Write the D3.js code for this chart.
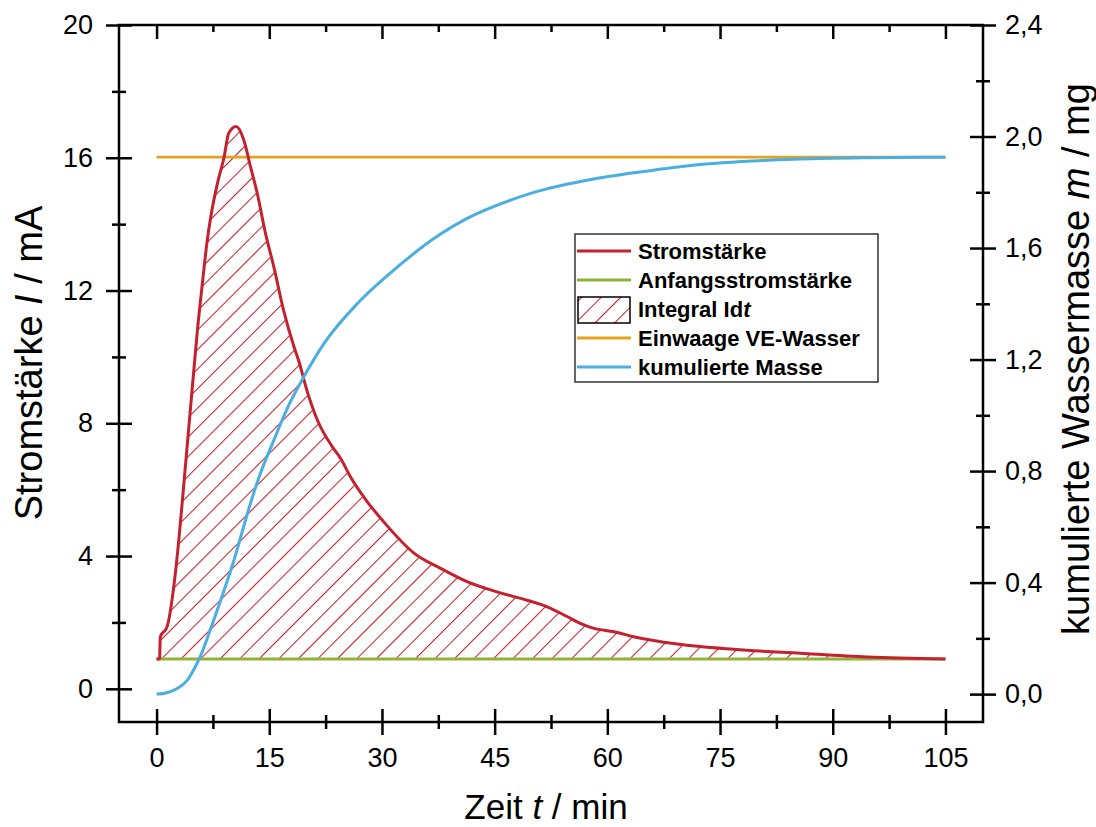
<!DOCTYPE html>
<html>
<head>
<meta charset="utf-8">
<script src="https://cdn.jsdelivr.net/npm/d3@7"></script>
<style>
  body { margin: 0; background: #fff; }
  svg text { font-family: Arial, "Liberation Sans", sans-serif; fill: #000; }
</style>
</head>
<body>
<svg class="chart"></svg>
<script>
// Stromstärke (mA) over Zeit (min)
const stromZeit = [0, 0.4, 0.5, 1.4, 2.4, 3.0, 3.6, 4.3, 5.0, 5.4, 6.1, 6.75, 7.2, 8.1, 9.0, 9.6, 10.6,
  11.6, 12.5, 13.4, 14.5, 15.6, 16.9, 18.3, 18.9, 20.0, 21.4, 23.4, 24.5, 25.8, 28.0, 30.2, 34.3,
  37.8, 41.4, 45.3, 49.3, 52.0, 54.7, 56.4, 58.2, 60.9, 63.5, 69.3, 76.8, 85.7, 94.6, 105];
const stromWerte = [0.9, 0.9, 1.57, 1.87, 3.28, 4.58, 6.09, 7.9, 9.7, 10.71, 12.22, 13.52, 14.2, 15.23, 16.03, 16.74, 16.94,
  16.54, 15.73, 14.93, 13.72, 12.72, 11.41, 10.3, 9.9, 9.0, 8.1, 7.29, 6.94, 6.39, 5.65, 5.04, 4.08,
  3.63, 3.22, 2.92, 2.67, 2.47, 2.17, 1.97, 1.82, 1.72, 1.57, 1.35, 1.19, 1.07, 0.96, 0.9];

// kumulierte Masse (mg)
const masseZeit = [0, 1.5, 2.75, 4.1, 5.0, 5.9, 7.6, 10.3, 12.5, 13.8, 15.6, 17.4, 19.6, 22.3, 26.7,
  31.1, 37.8, 40.9, 45.0, 49.8, 58.7, 67.5, 71.1, 85.7, 95, 105];
const masseWerte = [0, 0.006, 0.02, 0.05, 0.09, 0.14, 0.265, 0.48, 0.684, 0.79, 0.91, 1.025, 1.138, 1.258, 1.40,
  1.51, 1.65, 1.70, 1.75, 1.796, 1.85, 1.884, 1.896, 1.919, 1.924, 1.926];

const anfangsStrom = 0.9;   // mA
const einwaage = 1.926;     // mg
const zeitStart = 0, zeitEnde = 105;

const xMajor = [0, 15, 30, 45, 60, 75, 90, 105];
const xMinor = [7.5, 22.5, 37.5, 52.5, 67.5, 82.5, 97.5];
const yLeftMajor = [0, 4, 8, 12, 16, 20];
const yLeftMinor = [2, 6, 10, 14, 18];
const yRightMajor = [0, 0.4, 0.8, 1.2, 1.6, 2.0, 2.4];
const yRightMinor = [0.2, 0.6, 1.0, 1.4, 1.8, 2.2];

const legendLabels = ['Stromstärke', 'Anfangsstromstärke', 'Integral Id', 'Einwaage VE-Wasser', 'kumulierte Masse'];

const colRed = '#c4212f', colGreen = '#8fb33a', colOrange = '#e6a11f', colBlue = '#4baee0';

const width = 1096, height = 827;
const plot = { left: 119, right: 983, top: 25, bottom: 722 };

const svg = d3.select('svg.chart')
  .attr('width', width)
  .attr('height', height);

const x = d3.scaleLinear().domain([-5, 110]).range([plot.left, plot.right]);
const yL = d3.scaleLinear().domain([-1, 20]).range([plot.bottom, plot.top]);
const yR = d3.scaleLinear().domain([-0.1, 2.4]).range([plot.bottom, plot.top]);

const strom = stromZeit.map((t, i) => ({ t: t, v: stromWerte[i] }));
const masse = masseZeit.map((t, i) => ({ t: t, v: masseWerte[i] }));

// hatch pattern
const defs = svg.append('defs');
defs.append('pattern')
  .attr('id', 'hatch')
  .attr('patternUnits', 'userSpaceOnUse')
  .attr('width', 13.8)
  .attr('height', 13.8)
  .attr('patternTransform', 'rotate(45)')
  .append('line')
    .attr('x1', 0).attr('y1', 0)
    .attr('x2', 0).attr('y2', 13.8)
    .attr('stroke', colRed)
    .attr('stroke-width', 2.1);

//Integral area between Stromstärke and Anfangsstromstärke
svg.append('path')
  .datum(strom)
  .attr('fill', 'url(#hatch)')
  .attr('d', d3.area()
    .curve(d3.curveMonotoneX)
    .x(d => x(d.t))
    .y0(yL(anfangsStrom))
    .y1(d => yL(d.v)));

//Anfangsstromstärke
svg.append('line')
  .attr('x1', x(zeitStart)).attr('x2', x(zeitEnde))
  .attr('y1', yL(anfangsStrom)).attr('y2', yL(anfangsStrom))
  .attr('stroke', colGreen)
  .attr('stroke-width', 3);

//Einwaage
svg.append('line')
  .attr('x1', x(zeitStart)).attr('x2', x(zeitEnde))
  .attr('y1', yR(einwaage)).attr('y2', yR(einwaage))
  .attr('stroke', colOrange)
  .attr('stroke-width', 2.6);

//Stromstärke
svg.append('path')
  .datum(strom)
  .attr('fill', 'none')
  .attr('stroke', colRed)
  .attr('stroke-width', 3)
  .attr('stroke-linejoin', 'round')
  .attr('d', d3.line().curve(d3.curveMonotoneX).x(d => x(d.t)).y(d => yL(d.v)));

//kumulierte Masse
svg.append('path')
  .datum(masse)
  .attr('fill', 'none')
  .attr('stroke', colBlue)
  .attr('stroke-width', 3)
  .attr('d', d3.line().curve(d3.curveMonotoneX).x(d => x(d.t)).y(d => yR(d.v)));

//************************************************
//**Axes******************************************
//************************************************

const comma = v => d3.format('.1f')(v).replace('.', ',');

function styleAxis(g, size) {
  g.select('.domain').remove();
  g.selectAll('.tick line').attr('stroke', '#000').attr('stroke-width', 2.5);
  g.selectAll('.tick text').attr('font-size', size).attr('fill', '#000');
  g.attr('font-family', null);
}

// left
const gLeft = svg.append('g').attr('transform', `translate(${plot.left},0)`);
gLeft.call(d3.axisLeft(yL).tickValues(yLeftMajor).tickSize(13).tickPadding(13));
styleAxis(gLeft, 27);
gLeft.selectAll('.tick line').attr('x1', 13);
const gLeftMin = svg.append('g').attr('transform', `translate(${plot.left},0)`);
gLeftMin.call(d3.axisLeft(yL).tickValues(yLeftMinor).tickSize(7).tickFormat(''));
styleAxis(gLeftMin, 27);
gLeftMin.selectAll('.tick line').attr('x1', 7);

// right
const gRight = svg.append('g').attr('transform', `translate(${plot.right},0)`);
gRight.call(d3.axisRight(yR).tickValues(yRightMajor).tickSize(13).tickPadding(9).tickFormat(comma));
styleAxis(gRight, 27);
gRight.selectAll('.tick line').attr('x1', -13);
const gRightMin = svg.append('g').attr('transform', `translate(${plot.right},0)`);
gRightMin.call(d3.axisRight(yR).tickValues(yRightMinor).tickSize(7).tickFormat(''));
styleAxis(gRightMin, 27);
gRightMin.selectAll('.tick line').attr('x1', -7);

// bottom
const gBottom = svg.append('g').attr('transform', `translate(0,${plot.bottom})`);
gBottom.call(d3.axisBottom(x).tickValues(xMajor).tickSize(13).tickPadding(13));
styleAxis(gBottom, 27);
gBottom.selectAll('.tick line').attr('y1', -13);
const gBottomMin = svg.append('g').attr('transform', `translate(0,${plot.bottom})`);
gBottomMin.call(d3.axisBottom(x).tickValues(xMinor).tickSize(7).tickFormat(''));
styleAxis(gBottomMin, 27);
gBottomMin.selectAll('.tick line').attr('y1', -7);

// top (ticks inward, no labels)
const gTop = svg.append('g').attr('transform', `translate(0,${plot.top})`);
gTop.call(d3.axisBottom(x).tickValues(xMajor).tickSize(14).tickFormat(''));
styleAxis(gTop, 27);
const gTopMin = svg.append('g').attr('transform', `translate(0,${plot.top})`);
gTopMin.call(d3.axisBottom(x).tickValues(xMinor).tickSize(7).tickFormat(''));
styleAxis(gTopMin, 27);

// frame
svg.append('rect')
  .attr('x', plot.left).attr('y', plot.top)
  .attr('width', plot.right - plot.left)
  .attr('height', plot.bottom - plot.top)
  .attr('fill', 'none')
  .attr('stroke', '#000')
  .attr('stroke-width', 2.5);

//Axis titles
function title(parts, tx, ty, rot, size) {
  const t = svg.append('text')
    .attr('transform', `translate(${tx},${ty}) rotate(${rot})`)
    .attr('text-anchor', 'middle')
    .attr('font-size', size);
  parts.forEach(p => {
    t.append('tspan').attr('font-style', p[1] ? 'italic' : 'normal').text(p[0]);
  });
}
title([['Zeit ', false], ['t', true], [' / min', false]], 546, 819, 0, 35);
title([['Stromstärke ', false], ['I', true], [' / mA', false]], 42, 363, -90, 38);
title([['kumulierte Wassermasse ', false], ['m', true], [' / mg', false]], 1089, 359, -90, 38);

//************************************************
//**Legend****************************************
//************************************************

const legend = svg.append('g');
legend.append('rect')
  .attr('x', 575).attr('y', 234)
  .attr('width', 303).attr('height', 148)
  .attr('fill', '#fff')
  .attr('stroke', '#333')
  .attr('stroke-width', 1.5);

const legendColors = [colRed, colGreen, null, colOrange, colBlue];
legendLabels.forEach((label, i) => {
  const cy = 251 + i * 29;
  if (legendColors[i]) {
    legend.append('line')
      .attr('x1', 577).attr('x2', 631)
      .attr('y1', cy).attr('y2', cy)
      .attr('stroke', legendColors[i])
      .attr('stroke-width', 3);
  } else {
    legend.append('rect')
      .attr('x', 578).attr('y', cy - 12)
      .attr('width', 52).attr('height', 26)
      .attr('fill', 'url(#hatch)')
      .attr('stroke', '#000')
      .attr('stroke-width', 1.5);
  }
  const t = legend.append('text')
    .attr('x', 638).attr('y', cy)
    .attr('dy', '0.36em')
    .attr('font-size', 22)
    .attr('font-weight', 'bold')
    .text(label);
  if (i === 2) t.append('tspan').attr('font-style', 'italic').text('t');
});
</script>
</body>
</html>
